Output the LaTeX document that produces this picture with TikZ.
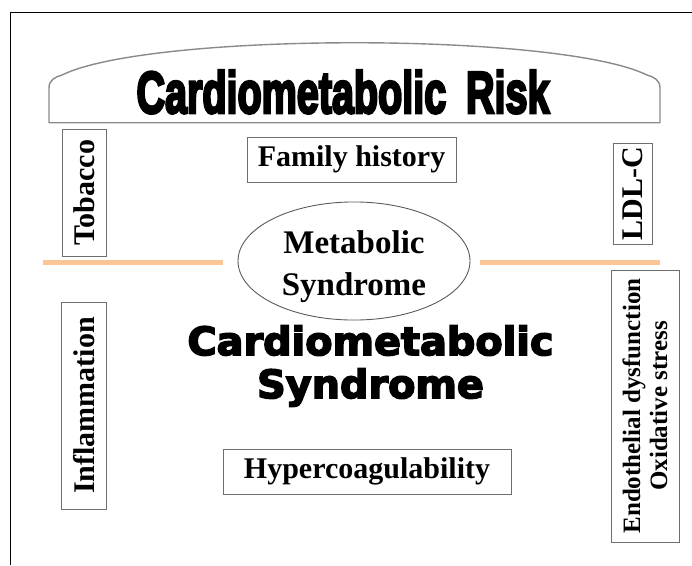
\documentclass[tikz,border=0pt]{standalone}
\usepackage{fontspec}
\setmainfont{Liberation Serif}
\newfontfamily\titlefont{Liberation Sans}[BoldFeatures={FakeBold=5}]
\newfontfamily\heavyfont{DejaVu Sans}[BoldFeatures={FakeBold=4}]
\usetikzlibrary{shapes.geometric}
\definecolor{boxgray}{HTML}{6E6E6E}
\definecolor{archgray}{HTML}{8A8A8A}
\definecolor{ellgray}{HTML}{5A5A5A}
\definecolor{peach}{HTML}{FBC693}
\begin{document}
\begin{tikzpicture}[x=1pt,y=-1pt,
  labelbox/.style={draw=boxgray, line width=0.9pt, inner sep=0pt, align=center,
    font=\fontsize{30}{34}\selectfont\bfseries},
  vbox/.style={labelbox, rotate=90},
  sepline/.style={draw=peach, line width=5pt},
  frameline/.style={draw=black, line width=1pt}]
\useasboundingbox (0,0) rectangle (692,565);
% outer frame
\coordinate (fbl) at (10,565);
\coordinate (ftl) at (10,12);
\coordinate (ftr) at (692,12);
\draw[frameline] (fbl) -- (ftl) -- (ftr);
% arch
\draw[archgray, line width=1.4pt, line join=round]
  (49,122.7) -- (49,88) .. controls (49,80) and (55,77) .. (62,75)
  .. controls (150,32) and (559,32) .. (647,75)
  .. controls (654,77) and (660,80) .. (660,88) -- (660,122.7) -- cycle;
\node[anchor=base, inner sep=0pt, font=\fontsize{59}{59}\selectfont\titlefont\bfseries]
  (title) at (343,113) {\scalebox{0.67}[1]{Cardiometabolic\hspace{0.5em}Risk}};
% separator lines
\coordinate (l1) at (43,262);
\coordinate (l2) at (223,262);
\coordinate (r1) at (480,262);
\coordinate (r2) at (660,262);
\draw[sepline] (l1) -- (l2);
\draw[sepline] (r1) -- (r2);
% boxes
\node[vbox, minimum width=127pt, minimum height=44pt] (tob) at (84,192.5) {Tobacco};
\node[vbox, minimum width=207pt, minimum height=45pt] (infl) at (84.3,405.5) {Inflammation};
\node[vbox, minimum width=101pt, minimum height=39pt] (ldl) at (632.5,193.5) {LDL-C};
\node[vbox, minimum width=272pt, minimum height=68pt,
  font=\fontsize{25}{27}\selectfont\bfseries] (endo) at (645,406)
  {Endothelial dysfunction\\Oxidative stress};
\node[labelbox, minimum width=209pt, minimum height=45pt] (fam) at (351.5,159.5) {Family history};
\node[labelbox, minimum width=288pt, minimum height=45pt] (hyp) at (367,471.5) {Hypercoagulability};
% ellipse
\node[ellipse, draw=ellgray, line width=0.9pt, inner sep=0pt, minimum width=232pt,
  minimum height=104pt, font=\fontsize{33}{42}\selectfont\bfseries]
  (met) at (354,261) {\raisebox{-5pt}[\height][\depth]{\begin{tabular}{@{}c@{}}Metabolic\\[-0.5pt]Syndrome\end{tabular}}};
% central heading
\node[inner sep=0pt, align=center, font=\fontsize{39}{43}\selectfont\heavyfont\bfseries]
  (cms) at (370.5,366) {\scalebox{1.02}[1]{Cardiometabolic}\\\scalebox{1.02}[1]{Syndrome}};
\end{tikzpicture}
\end{document}
